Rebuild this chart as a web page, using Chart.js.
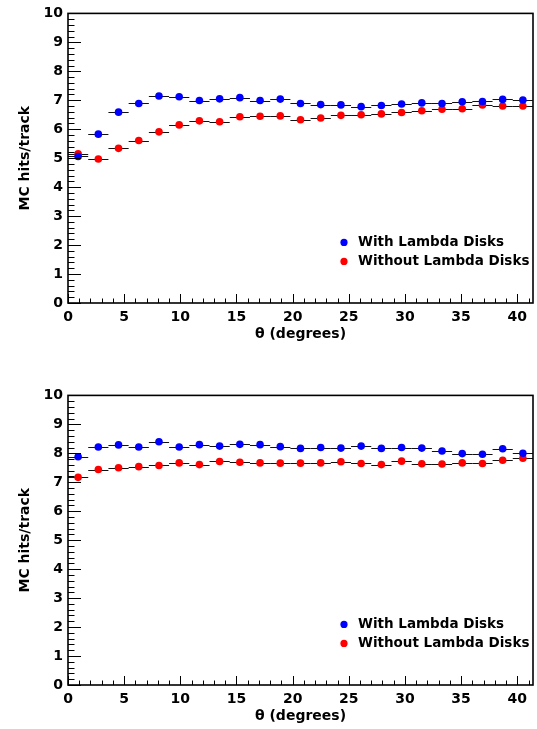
<!DOCTYPE html>
<html>
<head>
<meta charset="utf-8">
<script src="https://cdn.jsdelivr.net/npm/chart.js@4.4.1/dist/chart.umd.min.js"></script>
<style>
  html, body { margin: 0; padding: 0; background: #fff; }
  #wrap { position: relative; width: 537px; height: 729px; }
  .panel { position: absolute; left: 0; width: 537px; height: 347px; }
</style>
</head>
<body>
<div id="wrap">
  <div class="panel" style="top:0"><canvas id="chartTop" width="537" height="347"></canvas></div>
  <div class="panel" style="top:382px"><canvas id="chartBottom" width="537" height="347"></canvas></div>
</div>
<script>
// bin centres (degrees) and half width of each bin
const thetaBins = [0.9, 2.7, 4.5, 6.3, 8.1, 9.9, 11.7, 13.5, 15.3, 17.1, 18.9, 20.7,
  22.5, 24.3, 26.1, 27.9, 29.7, 31.5, 33.3, 35.1, 36.9, 38.7, 40.5];
const binHalfWidth = 0.9;

// upper panel
const topWith = [5.06, 5.83, 6.59, 6.89, 7.15, 7.12, 6.99, 7.05, 7.09, 6.99, 7.04, 6.89,
  6.85, 6.84, 6.78, 6.82, 6.87, 6.91, 6.89, 6.95, 6.96, 7.03, 7.01];
const topWithout = [5.15, 4.97, 5.34, 5.61, 5.91, 6.15, 6.29, 6.26, 6.43, 6.45, 6.46, 6.33,
  6.39, 6.48, 6.50, 6.53, 6.58, 6.64, 6.69, 6.71, 6.84, 6.80, 6.80];

// lower panel
const bottomWith = [7.88, 8.22, 8.29, 8.22, 8.40, 8.22, 8.30, 8.25, 8.31, 8.30, 8.23, 8.17,
  8.20, 8.18, 8.25, 8.17, 8.20, 8.18, 8.08, 7.99, 7.97, 8.16, 8.00];
const bottomWithout = [7.17, 7.44, 7.50, 7.54, 7.58, 7.67, 7.61, 7.72, 7.69, 7.67, 7.66, 7.66,
  7.67, 7.71, 7.65, 7.61, 7.73, 7.64, 7.63, 7.67, 7.65, 7.76, 7.83];

const seriesLabels = ['With Lambda Disks', 'Without Lambda Disks'];
const seriesColors = ['#0000ff', '#ff0000'];

const FONT = 'DejaVu Sans';

function toPoints(values) {
  return values.map((v, i) => ({ x: thetaBins[i], y: v }));
}

// error bars, ROOT style ticks inside the frame, frame and legend
const rootStyle = {
  id: 'rootStyle',
  beforeDatasetsDraw(chart) {
    const { ctx, scales: { x, y } } = chart;
    ctx.save();
    ctx.strokeStyle = '#111';
    ctx.lineWidth = 1;
    chart.data.datasets.forEach(ds => {
      ds.data.forEach(p => {
        const x0 = x.getPixelForValue(p.x - binHalfWidth);
        const x1 = x.getPixelForValue(p.x + binHalfWidth);
        const py = Math.round(y.getPixelForValue(p.y)) + 0.5;
        ctx.beginPath();
        ctx.moveTo(x0, py);
        ctx.lineTo(x1, py);
        ctx.stroke();
      });
    });
    ctx.restore();
  },
  afterDraw(chart) {
    const { ctx, chartArea: a, scales: { x, y } } = chart;
    ctx.save();
    ctx.strokeStyle = '#000';
    ctx.lineWidth = 1;

    // y ticks: major every 1, minor every 0.2
    for (let i = 0; i <= 50; i++) {
      const py = Math.round(y.getPixelForValue(i * 0.2)) + 0.5;
      const len = i % 5 === 0 ? 13 : 6.5;
      ctx.beginPath();
      ctx.moveTo(a.left, py);
      ctx.lineTo(a.left + len, py);
      ctx.stroke();
    }
    // x ticks: major every 5, minor every 1
    for (let v = 0; v <= 41; v++) {
      const px = Math.round(x.getPixelForValue(v)) + 0.5;
      const len = v % 5 === 0 ? 9 : 4.5;
      ctx.beginPath();
      ctx.moveTo(px, a.bottom);
      ctx.lineTo(px, a.bottom - len);
      ctx.stroke();
    }

    // frame
    ctx.lineWidth = 1.6;
    ctx.strokeRect(a.left, a.top, a.right - a.left, a.bottom - a.top);

    // legend
    ctx.font = 'bold 13.5px "' + FONT + '"';
    ctx.textBaseline = 'middle';
    ctx.fillStyle = '#000';
    const rows = [a.top + 229, a.top + 248];
    chart.data.datasets.forEach((ds, i) => {
      ctx.beginPath();
      ctx.fillStyle = ds.backgroundColor;
      ctx.arc(a.left + 276, rows[i], 3.6, 0, Math.PI * 2);
      ctx.fill();
      ctx.fillStyle = '#000';
      ctx.fillText(ds.label, a.left + 290, rows[i]);
    });
    ctx.restore();
  }
};

function makeChart(id, withVals, withoutVals) {
  const ctx = document.getElementById(id).getContext('2d');
  return new Chart(ctx, {
    type: 'scatter',
    data: {
      datasets: [
        { label: seriesLabels[0], data: toPoints(withVals), backgroundColor: seriesColors[0],
          borderWidth: 0, pointRadius: 3.8 },
        { label: seriesLabels[1], data: toPoints(withoutVals), backgroundColor: seriesColors[1],
          borderWidth: 0, pointRadius: 3.8 }
      ]
    },
    options: {
      responsive: false,
      animation: false,
      layout: { padding: { top: 12, right: 3, left: 0, bottom: 0 } },
      plugins: { legend: { display: false }, tooltip: { enabled: false } },
      scales: {
        x: {
          type: 'linear', min: 0, max: 41.4,
          grid: { display: false, drawTicks: false },
          border: { display: false },
          ticks: { stepSize: 5, includeBounds: false, padding: 6, maxRotation: 0,
            color: '#000', font: { family: FONT, size: 14, weight: 'bold' } },
          title: { display: true, text: 'θ (degrees)', color: '#000',
            font: { family: FONT, size: 14, weight: 'bold' }, padding: { top: 0, bottom: 4 } },
          afterFit(scale) { scale.height = 44; }
        },
        y: {
          min: 0, max: 10,
          grid: { display: false, drawTicks: false },
          border: { display: false },
          ticks: { stepSize: 1, padding: 5, color: '#000',
            font: { family: FONT, size: 14, weight: 'bold' } },
          title: { display: true, text: 'MC hits/track', color: '#000',
            font: { family: FONT, size: 14, weight: 'bold' }, padding: { top: 17, bottom: 0 } },
          afterFit(scale) { scale.width = 68; }
        }
      }
    },
    plugins: [rootStyle]
  });
}

makeChart('chartTop', topWith, topWithout);
makeChart('chartBottom', bottomWith, bottomWithout);
</script>
</body>
</html>
